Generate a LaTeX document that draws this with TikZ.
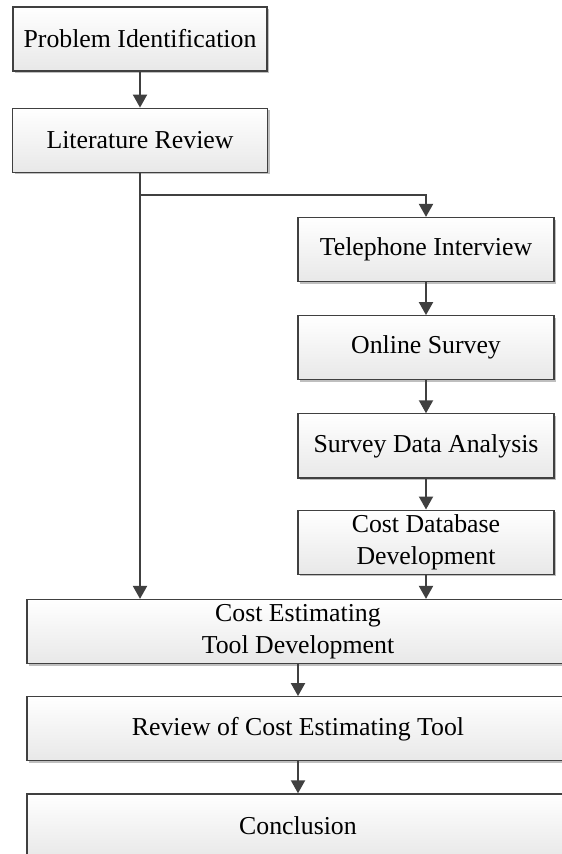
\documentclass[tikz,border=0pt]{standalone}
\usepackage{fontspec}
\setmainfont{Liberation Serif}
\usetikzlibrary{positioning,arrows.meta,shadows}
\definecolor{edgegray}{HTML}{404040}
\begin{document}
\begin{tikzpicture}[x=0.5pt, y=-0.5pt,
    step box/.style={rectangle, draw=edgegray, line width=0.6pt, inner sep=0pt,
        top color=white, bottom color=black!9, align=center,
        minimum height=32pt, font=\fontsize{12.9}{16}\selectfont,
        drop shadow={shadow xshift=1.1pt, shadow yshift=-1.1pt, fill=black!25, opacity=1}},
    small box/.style={step box, minimum width=128pt},
    wide box/.style={step box, minimum width=271pt},
    flow/.style={-{Triangle[width=7pt,length=6.5pt]}, draw=edgegray, line width=1pt}]
  \useasboundingbox (0,0) rectangle (561,854);

  \node[step box, minimum width=127pt] (problem) at (140,39) {Problem Identification};
  \node[step box, minimum width=127.5pt] (review) [below=18pt of problem] {Literature Review};

  \node[small box] (phone) at (426,249.5) {Telephone Interview};
  \node[small box] (online) [below=16.5pt of phone] {Online Survey};
  \node[small box] (analysis) [below=16.5pt of online] {Survey Data Analysis};
  \node[small box] (database) [below=15.5pt of analysis] {Cost Database\\Development};

  \node[wide box] (tool) at (298,631.5) {Cost Estimating\\Tool Development};
  \node[wide box] (toolreview) [below=16pt of tool] {Review of Cost Estimating Tool};
  \node[wide box] (conclusion) [below=16pt of toolreview] {Conclusion};

  \coordinate (split) at ([yshift=-11pt]review.south);

  \draw[flow] (problem) -- (review);
  \draw[flow] (review.south) -- (review.south |- tool.north);
  \draw[flow] (split) -| (phone.north);
  \draw[flow] (phone) -- (online);
  \draw[flow] (online) -- (analysis);
  \draw[flow] (analysis) -- (database);
  \draw[flow] (database.south) -- (database.south |- tool.north);
  \draw[flow] (tool) -- (toolreview);
  \draw[flow] (toolreview) -- (conclusion);
\end{tikzpicture}
\end{document}
